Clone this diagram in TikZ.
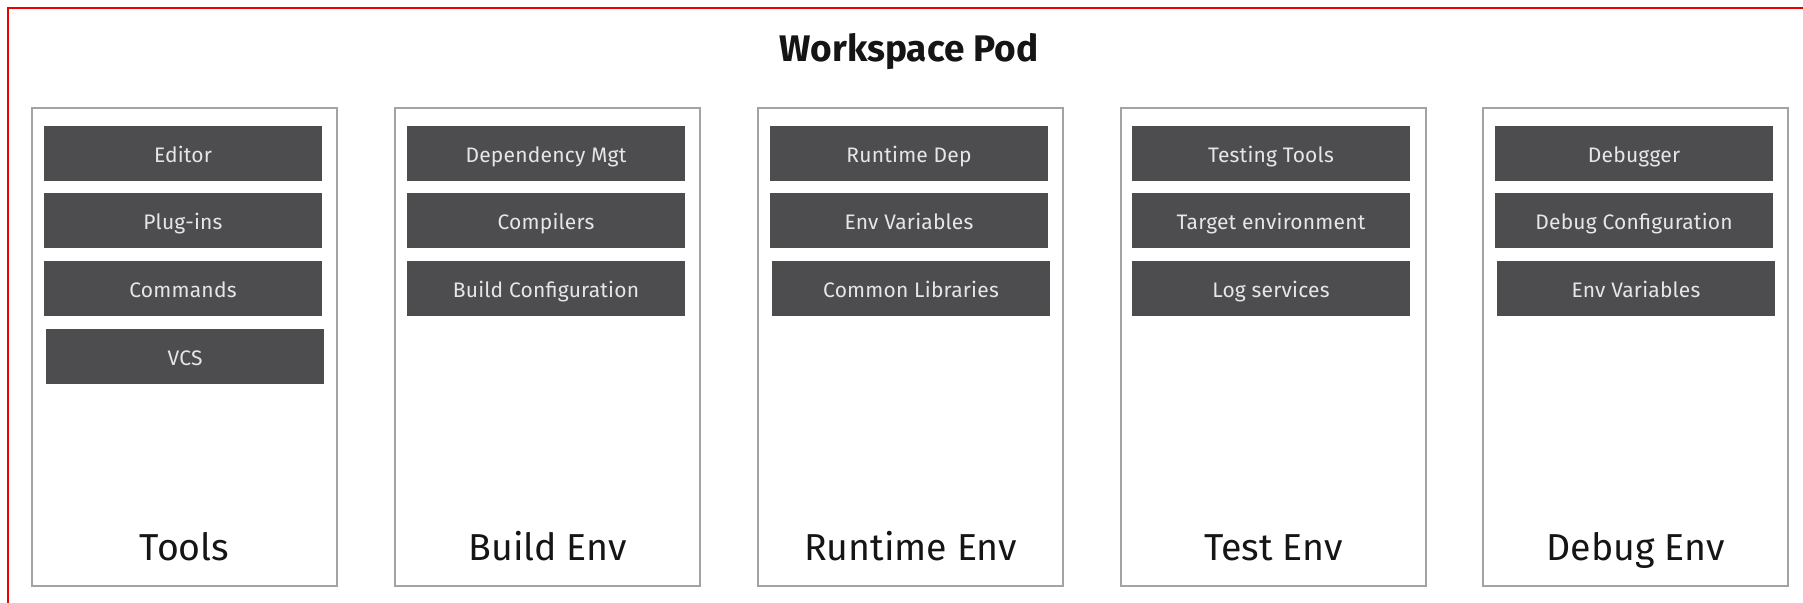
\documentclass[tikz,border=0pt]{standalone}
\usepackage{fontspec}
\setmainfont{Fira Sans}
\definecolor{podred}{HTML}{EE0000}
\definecolor{boxgray}{HTML}{A3A3A3}
\definecolor{itemfill}{HTML}{4D4D4F}
\definecolor{itemtext}{HTML}{E6E6E6}
\definecolor{labeltext}{HTML}{151515}
\tikzset{
  envbox/.style={draw=boxgray, line width=1.6pt, fill=white, minimum width=305pt, minimum height=478pt, inner sep=0pt},
  item/.style={fill=itemfill, text=itemtext, minimum width=278pt, minimum height=55pt, inner sep=0pt, text height=17pt, text depth=0pt, font=\fontsize{21}{24}\selectfont\addfontfeatures{LetterSpace=1}},
  envlabel/.style={anchor=base, text=labeltext, inner sep=0pt, font=\fontsize{37.5}{42}\selectfont},
  podtitle/.style={anchor=base, text=labeltext, inner sep=0pt, font=\fontsize{37}{42}\selectfont\bfseries}
}
\begin{document}
\begin{tikzpicture}[x=1pt,y=-1pt]
\useasboundingbox (0,0) rectangle (1803,602);
\clip (0,0) rectangle (1803,602);
\fill[white] (0,0) rectangle (1803,602);
\node[draw=podred, line width=2pt, minimum width=1830pt, minimum height=630pt, anchor=north west, inner sep=0pt] (pod) at (7,7) {};
\node[podtitle] (title) at (909,62) {Workspace Pod};

% columns
\node[envbox] (tools) at (184.5,347) {};
\node[envbox] (build) at (547.5,347) {};
\node[envbox] (runtime) at (910.5,347) {};
\node[envbox] (test) at (1273.5,347) {};
\node[envbox] (debug) at (1635.5,347) {};

\node[envlabel] (toolsl) at (184.5,560) {Tools};
\node[envlabel] (buildl) at (547.5,560) {Build Env};
\node[envlabel] (runtimel) at (910.5,560) {Runtime Env};
\node[envlabel] (testl) at (1273.5,560) {Test Env};
\node[envlabel] (debugl) at (1635.5,560) {Debug Env};

% Tools
\node[item] (t1) at (183,153.5) {Editor};
\node[item] (t2) at (183,220.5) {Plug-ins};
\node[item] (t3) at (183,288.5) {Commands};
\node[item] (t4) at (185,356.5) {VCS};
% Build
\node[item] (b1) at (546,153.5) {Dependency Mgt};
\node[item] (b2) at (546,220.5) {Compilers};
\node[item] (b3) at (546,288.5) {Build Configuration};
% Runtime
\node[item] (r1) at (909,153.5) {Runtime Dep};
\node[item] (r2) at (909,220.5) {Env Variables};
\node[item] (r3) at (911,288.5) {Common Libraries};
% Test
\node[item] (s1) at (1271,153.5) {Testing Tools};
\node[item] (s2) at (1271,220.5) {Target environment};
\node[item] (s3) at (1271,288.5) {Log services};
% Debug
\node[item] (d1) at (1634,153.5) {Debugger};
\node[item] (d2) at (1634,220.5) {Debug Configuration};
\node[item] (d3) at (1636,288.5) {Env Variables};
\end{tikzpicture}
\end{document}
